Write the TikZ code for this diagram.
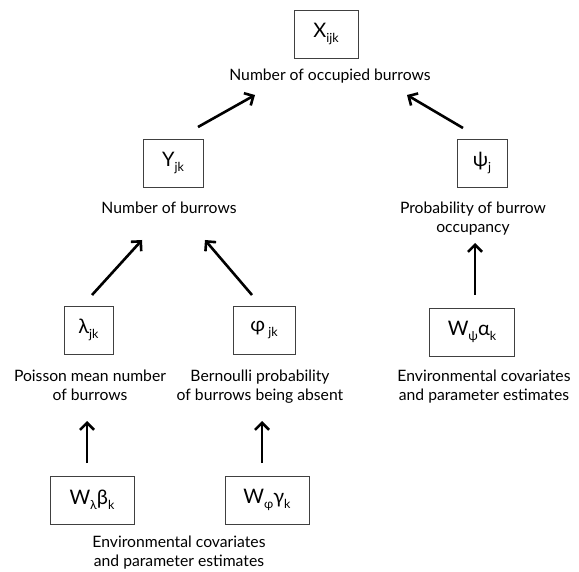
\documentclass[tikz,border=0pt]{standalone}
\usepackage{fontspec}
\setmainfont{Lato}
\usetikzlibrary{arrows.meta,positioning}

% lowered index set in a smaller size
\newcommand{\lowidx}[1]{\raisebox{-0.45ex}{\fontsize{12.5pt}{12.5pt}\selectfont #1}}

\begin{document}
\begin{tikzpicture}[
    x=1pt, y=-1pt,
    box/.style={
        rectangle,
        draw=black!75,
        line width=0.9pt,
        minimum width=#1,
        minimum height=48pt,
        inner sep=0pt,
        font=\fontsize{20pt}{20pt}\selectfont
    },
    box/.default=60pt,
    desc/.style={
        align=center,
        inner sep=0pt,
        anchor=north,
        font=\fontsize{15.7pt}{18.5pt}\selectfont
    },
    arrow/.style={-{Straight Barb[length=7pt,width=14pt]}, line width=2.6pt}
]
\useasboundingbox (0,0) rectangle (579,572);

% Top level
\node[box=64pt] (xbox) at (326,34) {X\lowidx{ijk}};
\node[desc] (xlab) at (330,69) {Number of occupied burrows};

% Middle level
\node[box=60pt] (ybox) at (173,163) {Y\lowidx{jk}};
\node[desc] (ylab) at (169,202) {Number of burrows};
\node[box=50pt] (psibox) at (482,163) {ψ\lowidx{j}};
\node[desc] (psilab) at (473,202) {Probability of burrow\\occupancy};

% Lower level
\node[box=49pt] (lambox) at (88.5,330) {λ\lowidx{jk}};
\node[desc] (lamlab) at (90,370) {Poisson mean number\\of burrows};
\node[box=62pt] (phibox) at (264,330) {φ\lowidx{ jk}};
\node[desc] (philab) at (260,370) {Bernoulli probability\\of burrows being absent};
\node[box=85pt] (wpsibox) at (472,332) {W\lowidx{ψ}α\lowidx{k}};
\node[desc] (wpsilab) at (484,370) {Environmental covariates\\and parameter estimates};

% Covariate level
\node[box=84pt] (wlambox) at (92,500) {W\lowidx{λ}β\lowidx{k}};
\node[box=84pt] (wphibox) at (267,500) {W\lowidx{φ}γ\lowidx{k}};
\node[desc] (wlab) at (179,536) {Environmental covariates\\and parameter estimates};

% Arrow ends
\coordinate (ytail) at (198,127);
\coordinate (xleft) at (255,95);
\coordinate (psitail) at (463,128);
\coordinate (xright) at (407,95);
\coordinate (lamtail) at (92,295);
\coordinate (yleft) at (142,240);
\coordinate (phitail) at (252,295);
\coordinate (yright) at (205,240);
\coordinate (wlamtop) at (87,463);
\coordinate (lamlow) at (87,421);
\coordinate (wphitop) at (262,463);
\coordinate (philow) at (262,421);
\coordinate (wpsitop) at (475,295);
\coordinate (psilow) at (475,243);

% Arrows
\draw[arrow] (ytail) -- (xleft);
\draw[arrow] (psitail) -- (xright);
\draw[arrow] (lamtail) -- (yleft);
\draw[arrow] (phitail) -- (yright);
\draw[arrow] (wlamtop) -- (lamlow);
\draw[arrow] (wphitop) -- (philow);
\draw[arrow] (wpsitop) -- (psilow);

\end{tikzpicture}
\end{document}
